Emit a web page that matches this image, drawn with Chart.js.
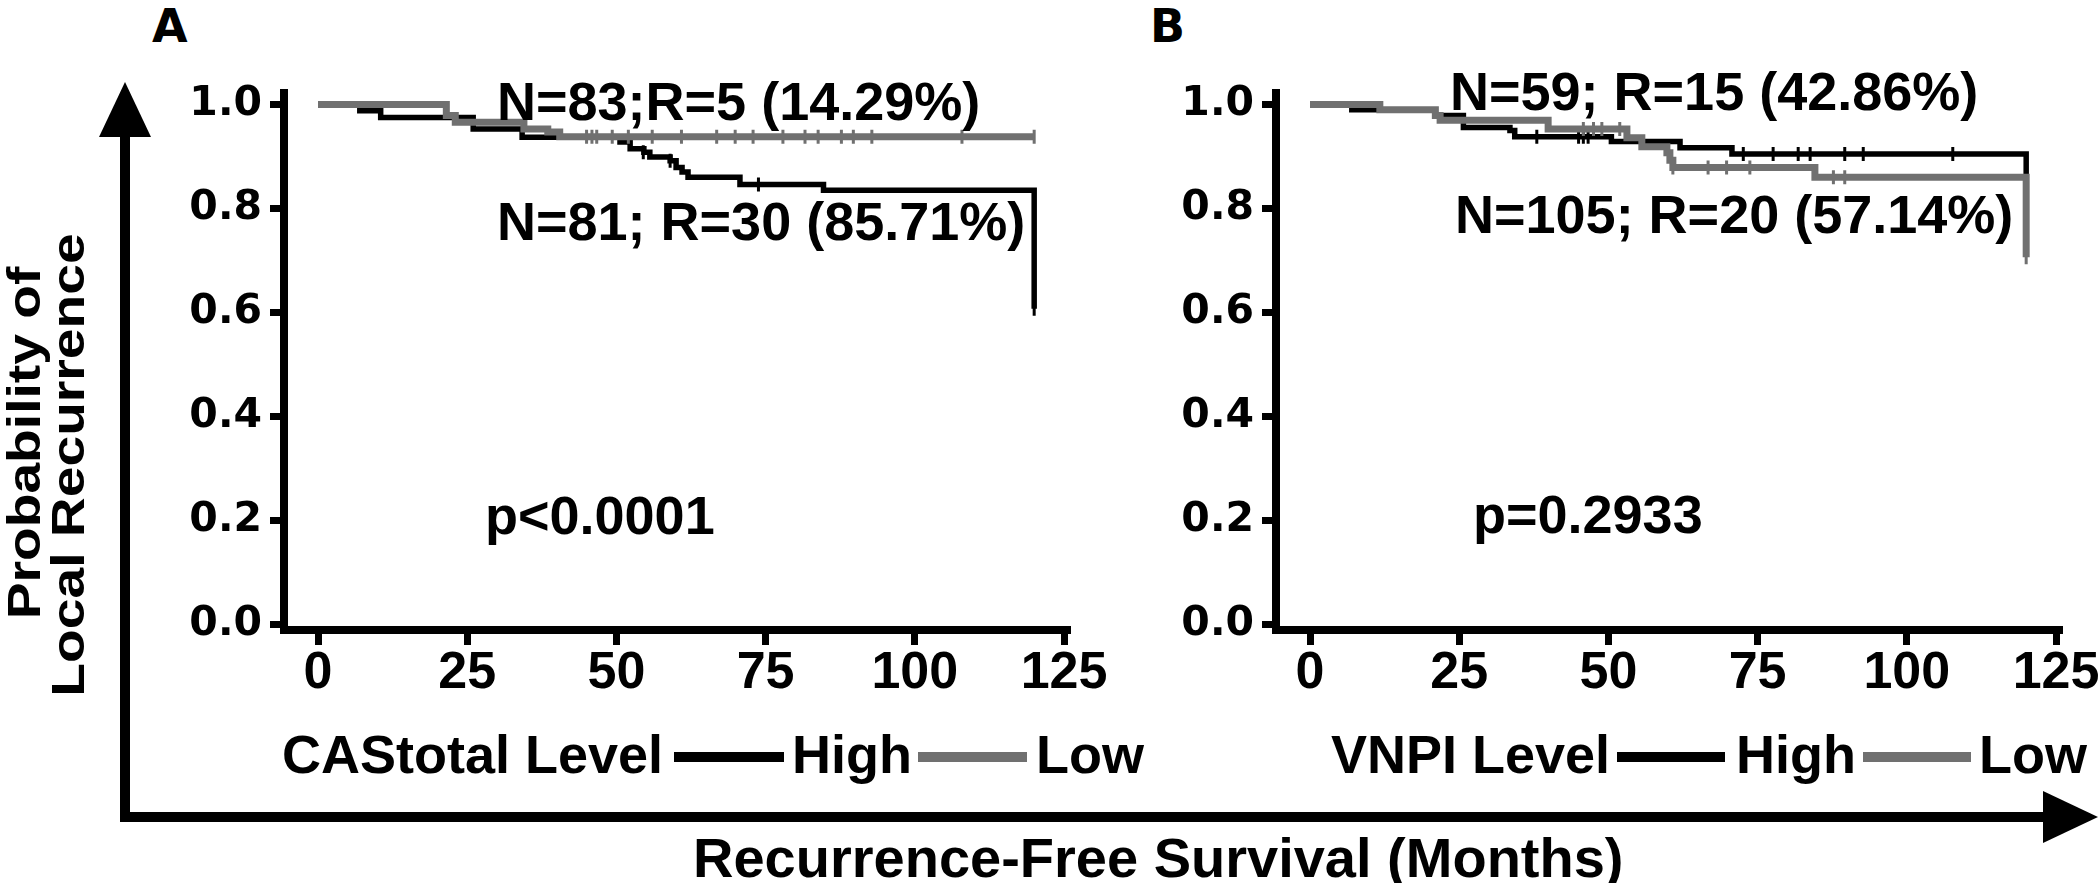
<!DOCTYPE html>
<html>
<head>
<meta charset="utf-8">
<script src="https://cdn.jsdelivr.net/npm/chart.js@4.4.1/dist/chart.umd.min.js"></script>
<style>
  html, body { margin: 0; padding: 0; background: #fff; overflow: hidden; }
  #fig { position: relative; width: 2100px; height: 883px; overflow: hidden; background: #fff;
         font-family: "Liberation Sans", Arial, sans-serif; font-weight: bold; color: #000; }
  .t { position: absolute; font-size: 54px; line-height: 54px; white-space: nowrap; }
  .panel { position: absolute; font-family: "DejaVu Sans", sans-serif; font-size: 46px; line-height: 46px; }
  .ytitle { position: absolute; font-size: 46px; line-height: 46px; white-space: nowrap;
            transform: translate(-50%, -50%) rotate(-90deg) scaleX(1.2); }
  .swatch { position: absolute; height: 10px; top: 752px; }
  canvas { position: absolute; }
  svg { position: absolute; left: 0; top: 0; }
</style>
</head>
<body>
<div id="fig">
  <svg width="2100" height="883">
    <rect x="120" y="130" width="10" height="692" fill="#000"/>
    <polygon points="125,82 99,137 151,137" fill="#000"/>
    <rect x="120" y="812" width="1930" height="10" fill="#000"/>
    <polygon points="2098,817 2043,791 2043,843" fill="#000"/>
  </svg>

  <canvas id="chartA" width="980" height="660" style="left:150px; top:60px;"></canvas>
  <canvas id="chartB" width="980" height="660" style="left:1142px; top:60px;"></canvas>

  <div class="panel" style="left:152px; top:3px;">A</div>
  <div class="panel" style="left:1150px; top:3px;">B</div>

  <div class="ytitle" style="left:24px; top:443px;">Probability of</div>
  <div class="ytitle" style="left:68px; top:465px;">Local Recurrence</div>

  <div class="t" style="left:497px; top:74px;">N=83;R=5 (14.29%)</div>
  <div class="t" style="left:497px; top:194px;">N=81; R=30 (85.71%)</div>
  <div class="t" style="left:485px; top:488px;">p&lt;0.0001</div>

  <div class="t" style="left:1450px; top:64px;">N=59; R=15 (42.86%)</div>
  <div class="t" style="left:1455px; top:187px;">N=105; R=20 (57.14%)</div>
  <div class="t" style="left:1473px; top:487px;">p=0.2933</div>

  <div class="t" style="left:282px; top:727px;">CAStotal Level</div>
  <div class="swatch" style="left:674px; width:110px; background:#000;"></div>
  <div class="t" style="left:792px; top:727px;">High</div>
  <div class="swatch" style="left:918px; width:109px; background:#707070;"></div>
  <div class="t" style="left:1036px; top:727px;">Low</div>

  <div class="t" style="left:1331px; top:727px;">VNPI Level</div>
  <div class="swatch" style="left:1617px; width:108px; background:#000;"></div>
  <div class="t" style="left:1736px; top:727px;">High</div>
  <div class="swatch" style="left:1863px; width:108px; background:#707070;"></div>
  <div class="t" style="left:1979px; top:727px;">Low</div>

  <div class="t" style="left:693px; top:830px; font-size:56px; line-height:56px;">Recurrence-Free Survival (Months)</div>
</div>

<script>
// axis ticks
const xTicks = [0, 25, 50, 75, 100, 125];
const yTicks = [0, 0.2, 0.4, 0.6, 0.8, 1.0];

// Panel A - CAStotal level, Kaplan-Meier steps [month, probability]
const casHighSteps = [[0, 1], [7, 0.988], [10.5, 0.975], [26, 0.953], [34.2, 0.937], [50.6, 0.928],
    [52.3, 0.915], [54.6, 0.908], [55.6, 0.899], [59, 0.892], [60, 0.879], [61, 0.870], [62, 0.860],
    [70.7, 0.846], [84.7, 0.835], [120, 0.835], [120, 0.607]];
const casLowSteps = [[0, 1], [21.5, 0.979], [23, 0.966], [34.5, 0.953], [38.5, 0.947], [40.5, 0.938], [120, 0.938]];
// censored observations
const casHighCensor = [[54.5, 0.908], [59, 0.892], [73.8, 0.846], [120, 0.607]];
const casLowCensor = [[45, 0.938], [45.9, 0.938], [46.7, 0.938], [49.3, 0.938], [52, 0.938], [56, 0.938],
    [60.9, 0.938], [66.8, 0.938], [69.9, 0.938], [72.9, 0.938], [77.9, 0.938], [81.6, 0.938], [83.8, 0.938],
    [87.7, 0.938], [89.7, 0.938], [92.8, 0.938], [107.9, 0.938], [120, 0.938]];

// Panel B - VNPI level
const vnpiHighSteps = [[0, 1], [7, 0.99], [21, 0.979], [25.7, 0.956], [33.5, 0.95], [34.3, 0.938],
    [50.5, 0.929], [62, 0.917], [70.7, 0.905], [120, 0.905], [120, 0.863]];
const vnpiLowSteps = [[0, 1], [11.7, 0.99], [21, 0.979], [21.8, 0.97], [39.9, 0.953], [53.1, 0.936],
    [55.6, 0.919], [59.8, 0.907], [60.3, 0.893], [60.8, 0.879], [84.6, 0.86], [120, 0.86], [120, 0.793], [120, 0.706]];
const vnpiHighCensor = [[38, 0.938], [45, 0.938], [45.8, 0.938], [46.6, 0.938], [72.6, 0.905], [77.6, 0.905],
    [81.8, 0.905], [83.8, 0.905], [89.6, 0.905], [92.7, 0.905], [107.7, 0.905]];
const vnpiLowCensor = [[45.8, 0.953], [47.5, 0.953], [48.9, 0.953], [51.9, 0.953], [60.8, 0.879], [66.7, 0.879],
    [69.8, 0.879], [73.7, 0.879], [87.7, 0.86], [89.6, 0.86], [120, 0.793], [120, 0.706]];

const BLACK = '#000000';
const GRAY = '#707070';

function toXY(arr) {
    return arr.map(p => ({ x: p[0], y: p[1] }));
}

function curve(steps, color, width) {
    return {
        data: toXY(steps),
        stepped: true,
        borderColor: color,
        borderWidth: width,
        pointRadius: 0,
        fill: false
    };
}

function censorMarks(points, color) {
    return {
        data: toXY(points),
        showLine: false,
        pointStyle: 'line',
        rotation: 90,
        pointRadius: 7,
        pointHoverRadius: 7,
        borderColor: color,
        borderWidth: 3
    };
}

function makeChart(id, highSteps, lowSteps, highCens, lowCens) {
    const ctx = document.getElementById(id).getContext('2d');
    return new Chart(ctx, {
        type: 'line',
        data: {
            // first dataset is painted last, so gray sits on top
            datasets: [
                curve(lowSteps, GRAY, 7),
                censorMarks(lowCens, GRAY),
                curve(highSteps, BLACK, 5.5),
                censorMarks(highCens, BLACK)
            ]
        },
        options: {
            responsive: false,
            animation: false,
            devicePixelRatio: 1,
            layout: { padding: { top: 32, right: 63, left: 0, bottom: 0 } },
            plugins: { legend: { display: false }, tooltip: { enabled: false } },
            scales: {
                x: {
                    type: 'linear',
                    min: -5.7,
                    max: 125.5,
                    afterBuildTicks: (s) => { s.ticks = xTicks.map(v => ({ value: v })); },
                    afterFit: (s) => { s.height = 90; },
                    border: { display: true, color: BLACK, width: 8 },
                    grid: { drawOnChartArea: false, drawTicks: true, tickLength: 15, lineWidth: 7, tickWidth: 7, color: BLACK },
                    ticks: {
                        color: BLACK,
                        padding: -3,
                        maxRotation: 0,
                        autoSkip: false,
                        font: { family: 'Liberation Sans, Arial, sans-serif', size: 52, weight: 'bold' },
                        callback: (v) => String(v)
                    }
                },
                y: {
                    type: 'linear',
                    min: -0.0115,
                    max: 1.023,
                    afterBuildTicks: (s) => { s.ticks = yTicks.map(v => ({ value: v })); },
                    afterFit: (s) => { s.width = 134; },
                    border: { display: true, color: BLACK, width: 8 },
                    grid: { drawOnChartArea: false, drawTicks: true, tickLength: 14, lineWidth: 7, tickWidth: 7, color: BLACK },
                    ticks: {
                        color: BLACK,
                        padding: 8,
                        autoSkip: false,
                        font: { family: 'DejaVu Sans, sans-serif', size: 41, weight: 'bold' },
                        callback: (v) => Number(v).toFixed(1)
                    }
                }
            }
        }
    });
}

makeChart('chartA', casHighSteps, casLowSteps, casHighCensor, casLowCensor);
makeChart('chartB', vnpiHighSteps, vnpiLowSteps, vnpiHighCensor, vnpiLowCensor);
</script>
</body>
</html>
